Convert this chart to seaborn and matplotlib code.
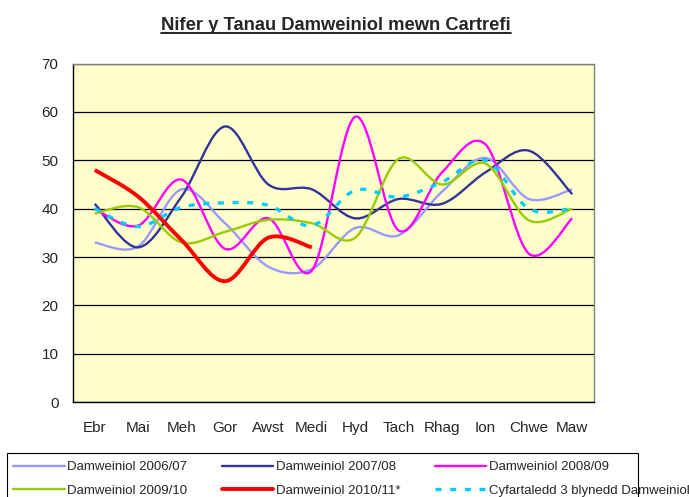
import numpy as np
import pandas as pd
import seaborn as sns
from matplotlib import pyplot as plt
from matplotlib.path import Path
from matplotlib.patches import PathPatch, Rectangle
from matplotlib.lines import Line2D

months = ["Ebr", "Mai", "Meh", "Gor", "Awst", "Medi", "Hyd", "Tach", "Rhag", "Ion", "Chwe", "Maw"]

s2006 = [33, 32.2, 44, 37, 28, 27.5, 36, 34.5, 43.5, 50.5, 42, 44]
s2007 = [41, 32, 42.5, 57, 45, 44, 38, 42, 41, 47.5, 52, 43]
s2008 = [40, 36.5, 46, 31.7, 38, 27.2, 59, 35.5, 47.5, 53.3, 30.7, 38]
s2009 = [39, 40.3, 33, 35.2, 37.7, 37, 34, 50.3, 45, 49.3, 37.6, 40]
s2010 = [48, 42.5, 33.5, 25, 34, 32]
avg3 = [40, 36.3, 40.3, 41.2, 40.7, 36.5, 43.8, 42.4, 45.5, 50, 40, 40]

labels = ["Damweiniol 2006/07", "Damweiniol 2007/08", "Damweiniol 2008/09",
          "Damweiniol 2009/10", "Damweiniol 2010/11*", "Cyfartaledd 3 blynedd Damweiniol"]
series = [s2006, s2007, s2008, s2009, s2010, avg3]
colors = ["#9999FF", "#333399", "#FF00FF", "#99CC00", "#FF0000", "#00CCFF"]
widths = [1.7, 1.7, 1.7, 1.7, 2.8, 2.4]
styles = ["-", "-", "-", "-", "-", (0, (1.8, 2.6))]

sns.set_style("white")
plt.rcParams["font.family"] = ["Liberation Sans", "DejaVu Sans"]


def smooth_path(xs, ys):
    # excel-style smoothed line: bezier segments through every point
    pts = np.column_stack([xs, ys]).astype(float)
    verts = [pts[0]]
    codes = [Path.MOVETO]
    n = len(pts)
    for i in range(n - 1):
        p0 = pts[i - 1] if i > 0 else pts[i]
        p1 = pts[i]
        p2 = pts[i + 1]
        p3 = pts[i + 2] if i + 2 < n else pts[i + 1]
        c1 = p1 + (p2 - p0) / 6.0
        c2 = p2 - (p3 - p1) / 6.0
        verts += [c1, c2, p2]
        codes += [Path.CURVE4] * 3
    return Path(verts, codes)


fig = plt.figure(figsize=(6.89, 4.97), dpi=100)
ax = fig.add_axes([0.106, 0.191, 0.756, 0.681])
ax.set_facecolor("#FFFFCC")

handles = []
for lab, vals, col, lw, ls in zip(labels, series, colors, widths, styles):
    x = np.arange(len(vals))
    patch = PathPatch(smooth_path(x, vals), facecolor="none", edgecolor=col,
                      linewidth=lw, linestyle=ls, capstyle="butt", zorder=3)
    ax.add_patch(patch)
    handles.append(Line2D([0], [0], color=col, linewidth=lw, linestyle=ls))

ax.set_xlim(-0.5, len(months) - 0.5)
ax.set_ylim(0, 70)
ax.set_yticks(range(0, 71, 10))
ax.set_xticks(range(len(months)))
ax.set_xticklabels(months, fontsize=11)
ax.set_xticks(np.arange(-0.5, len(months), 1), minor=True)
ax.tick_params(axis="x", which="major", length=0, pad=13.5)
ax.tick_params(axis="x", which="minor", length=4, color="black", direction="out")
ax.tick_params(axis="y", length=3.5, color="black", direction="out", labelsize=11, pad=7)
ax.yaxis.grid(True, color="black", linewidth=0.9)
ax.set_axisbelow(True)
for side in ["top", "right"]:
    ax.spines[side].set_color("#808080")
for side in ["left", "bottom"]:
    ax.spines[side].set_color("black")
for sp in ax.spines.values():
    sp.set_linewidth(1.0)

title = fig.text(0.488, 0.948, "Nifer y Tanau Damweiniol mewn Cartrefi",
                 ha="center", va="center", fontsize=13.2, fontweight="bold")
fig.canvas.draw()
bb = title.get_window_extent().transformed(fig.transFigure.inverted())
fig.add_artist(Line2D([bb.x0, bb.x1], [bb.y0 + 0.003, bb.y0 + 0.003],
                      color="black", linewidth=1.2, transform=fig.transFigure))

# legend box is cut short on the right in the original, so draw it separately
fig.add_artist(Rectangle((0.0097, -0.01), 0.9163, 0.0985, transform=fig.transFigure,
                         facecolor="white", edgecolor="black", linewidth=0.8, zorder=1))

# legend is filled column by column, so reorder to read across rows
order = [0, 3, 1, 4, 2, 5]
leg = fig.legend([handles[i] for i in order], [labels[i] for i in order],
                 loc="upper left", bbox_to_anchor=(0.019, 0.072),
                 ncol=3, fontsize=9.5, frameon=False,
                 handlelength=3.9, columnspacing=2.6, labelspacing=0.82,
                 handletextpad=0.2, borderpad=0, borderaxespad=0)
leg.set_zorder(2)

fig.savefig("out.png", dpi=100)
